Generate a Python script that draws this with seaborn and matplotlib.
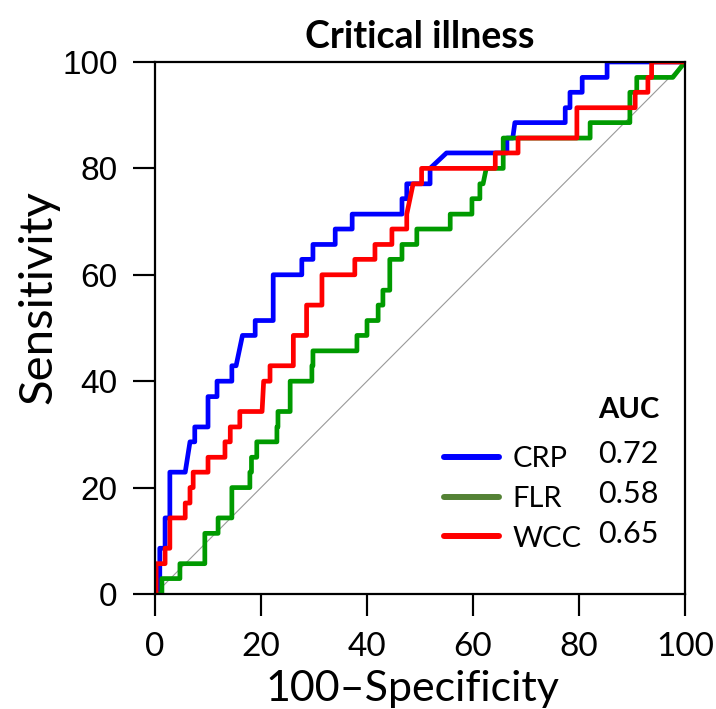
import pandas as pd
import seaborn as sns
import matplotlib.pyplot as plt
from matplotlib.lines import Line2D

# ROC curve points (x = 100-specificity, y = sensitivity)
crp_x = [0, 0.9, 0.9, 1.9, 1.9, 2.8, 2.8, 5.7, 6.6, 7.5, 7.5, 10, 10, 11.7, 11.7, 14.5, 14.5,
         15.3, 16.5, 18.9, 18.9, 22.3, 22.3, 27.7, 27.7, 29.8, 29.8, 34, 34, 37.2, 37.2, 46.6,
         46.6, 47.5, 47.5, 51.9, 51.9, 55, 66.4, 66.4, 67.5, 67.9, 77.4, 77.4, 78.3, 78.3,
         80.6, 80.6, 85.3, 85.3, 100]
crp_y = [0, 0, 8.6, 8.6, 14.3, 14.3, 22.9, 22.9, 28.6, 28.6, 31.4, 31.4, 37.1, 37.1, 40, 40, 42.9,
         42.9, 48.6, 48.6, 51.4, 51.4, 60, 60, 62.9, 62.9, 65.7, 65.7, 68.6, 68.6, 71.4, 71.4,
         74.3, 74.3, 77.1, 77.1, 80, 82.9, 82.9, 85.7, 85.7, 88.6, 88.6, 91.4, 91.4, 94.3,
         94.3, 97.1, 97.1, 100, 100]

flr_x = [0, 1.3, 1.3, 4.7, 4.7, 9.4, 9.4, 11.9, 11.9, 14.5, 14.5, 17.9, 17.9, 18.2, 18.2, 19.2,
         19.2, 23, 23, 23.2, 23.2, 25.5, 25.5, 29.6, 29.6, 29.8, 29.8, 38.1, 38.1, 40, 40, 42.1,
         42.1, 43, 43, 44.3, 44.3, 46.6, 46.6, 49.4, 49.4, 55.7, 55.7, 59.8, 59.8, 61.3, 61.3,
         61.9, 62.5, 65.7, 65.7, 82.1, 82.1, 89.6, 89.6, 90.9, 90.9, 97.7, 100]
flr_y = [0, 0, 2.9, 2.9, 5.7, 5.7, 11.4, 11.4, 14.3, 14.3, 20, 20, 22.9, 22.9, 25.7, 25.7,
         28.6, 28.6, 31.4, 31.4, 34.3, 34.3, 40, 40, 42.9, 42.9, 45.7, 45.7, 48.6, 48.6, 51.4, 51.4,
         54.3, 54.3, 57.1, 57.1, 62.9, 62.9, 65.7, 65.7, 68.6, 68.6, 71.4, 71.4, 74.3, 74.3, 77.1,
         77.1, 80, 80, 85.7, 85.7, 88.6, 88.6, 94.3, 94.3, 97.1, 97.1, 100]

wcc_x = [0, 0.2, 0.2, 1.9, 1.9, 2.8, 2.8, 5.7, 5.7, 6.6, 6.6, 7.2, 7.2, 10, 10, 13.2, 13.2,
         14.2, 14.2, 16, 16, 20.2, 20.5, 21.7, 21.7, 26.1, 26.1, 28.6, 28.6, 31.5, 31.5, 37.7,
         37.7, 41.5, 41.5, 44.7, 44.7, 47.5, 47.5, 48.7, 50.3, 50.3, 64.2, 64.2, 68.5, 68.5,
         79.6, 79.6, 90.6, 90.6, 93, 93, 93.7, 93.7, 100]
wcc_y = [0, 0, 5.7, 5.7, 8.6, 8.6, 14.3, 14.3, 17.1, 17.1, 20, 20, 22.9, 22.9, 25.7, 25.7, 28.6,
         28.6, 31.4, 31.4, 34.3, 34.3, 40, 40, 42.9, 42.9, 48.6, 48.6, 54.3, 54.3, 60, 60,
         62.9, 62.9, 65.7, 65.7, 68.6, 68.6, 71.4, 77.1, 77.1, 80, 80, 82.9, 82.9, 85.7,
         85.7, 91.4, 91.4, 94.3, 94.3, 97.1, 97.1, 100, 100]

markers = ['CRP', 'FLR', 'WCC']
auc = ['0.72', '0.58', '0.65']
line_colors = ['#0000FF', '#009A00', '#FF0000']
key_colors = ['#0000FF', '#548235', '#FF0000']
ticks = [0, 20, 40, 60, 80, 100]

df = pd.concat([
    pd.DataFrame({'x': crp_x, 'y': crp_y, 'marker': 'CRP'}),
    pd.DataFrame({'x': flr_x, 'y': flr_y, 'marker': 'FLR'}),
    pd.DataFrame({'x': wcc_x, 'y': wcc_y, 'marker': 'WCC'}),
], ignore_index=True)

sns.set_style('ticks')
plt.rcParams['font.family'] = ['Lato', 'DejaVu Sans']
plt.rcParams.update({
    'text.color': 'black', 'axes.labelcolor': 'black', 'axes.edgecolor': 'black',
    'axes.linewidth': 1.6,
    'xtick.color': 'black', 'ytick.color': 'black',
    'xtick.major.size': 16, 'ytick.major.size': 16,
    'xtick.major.width': 1.5, 'ytick.major.width': 1.5,
    'xtick.major.pad': 11, 'ytick.major.pad': 11,
    'xtick.labelsize': 24, 'ytick.labelsize': 24,
})

fig = plt.figure(figsize=(7.16, 7.09), dpi=100)
ax = fig.add_axes([0.2165, 0.1622, 0.7402, 0.7504])

ax.plot([0, 100], [0, 100], color='#999999', lw=0.8)
sns.lineplot(data=df, x='x', y='y', hue='marker', palette=dict(zip(markers, line_colors)),
             estimator=None, sort=False, lw=3.4, legend=False, ax=ax)

ax.set_xlim(0, 100)
ax.set_ylim(0, 100)
ax.set_xticks(ticks)
ax.set_yticks(ticks)
for lab in ax.get_yticklabels():
    lab.set_family('Liberation Sans')

# tick marks also drawn as plain line segments so they always show
tick_len_x = 22 / (0.7504 * 709)
tick_len_y = 22 / (0.7402 * 716)
for t in ticks:
    ax.plot([t, t], [0, -tick_len_x], transform=ax.get_xaxis_transform(), color='black',
            lw=1.5, clip_on=False, solid_capstyle='butt')
    ax.plot([0, -tick_len_y], [t, t], transform=ax.get_yaxis_transform(), color='black',
            lw=1.5, clip_on=False, solid_capstyle='butt')

ax.set_xlabel('100\u2013Specificity', fontsize=31)
ax.set_ylabel('Sensitivity', fontsize=34)
ax.xaxis.set_label_coords(0.485, -0.142)
ax.yaxis.set_label_coords(-0.18, 0.558)
ax.set_title('Critical illness', fontsize=27, fontweight='bold', pad=10)

handles = [Line2D([], [], color=c, lw=4.3) for c in key_colors]
ax.legend(handles, markers, loc='upper left', bbox_to_anchor=(0.545, 0.278),
          frameon=False, fontsize=21, handlelength=1.9, handletextpad=0.45,
          labelspacing=0.47, borderpad=0, borderaxespad=0)
row_y = [0.263, 0.188, 0.113]
for v, yy in zip(auc, row_y):
    ax.text(0.836, yy, v, transform=ax.transAxes, fontsize=22, va='center', ha='left')
ax.text(0.836, 0.346, 'AUC', transform=ax.transAxes, fontsize=21, fontweight='bold',
        va='center', ha='left')

fig.savefig('out.png', dpi=100)
